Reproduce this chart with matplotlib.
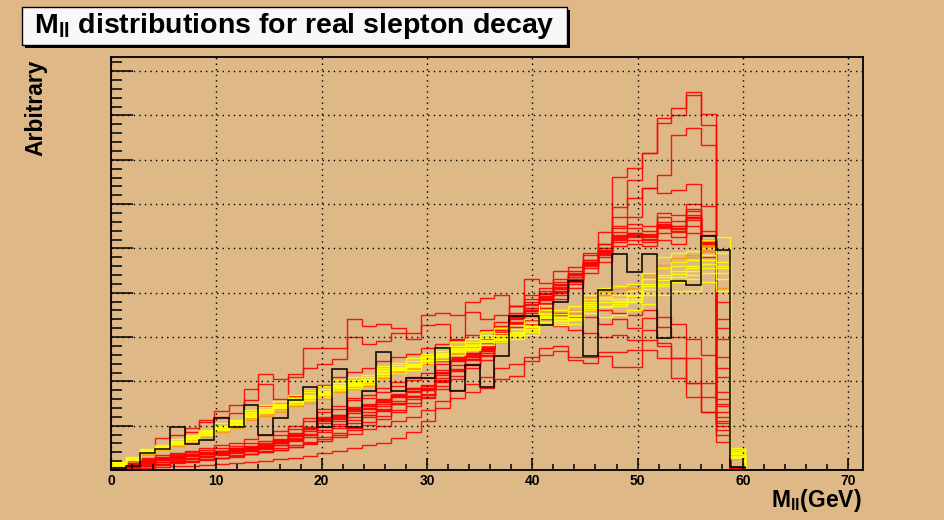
# M_ll distributions for real slepton decay (ROOT style canvas)

import matplotlib
matplotlib.use('Agg')
import matplotlib.pyplot as plt
import numpy as np
from matplotlib.patches import Rectangle
from matplotlib.ticker import MultipleLocator

plt.rcParams['font.family'] = 'Liberation Sans'
plt.rcParams['font.weight'] = 'bold'
plt.rcParams['mathtext.fontset'] = 'custom'
plt.rcParams['mathtext.rm'] = 'Liberation Sans:bold'
plt.rcParams['mathtext.it'] = 'Liberation Sans:bold'
plt.rcParams['mathtext.bf'] = 'Liberation Sans:bold'

title = 'M$_{ll}$ distributions for real slepton decay'
xlabel = 'M$_{ll}$(GeV)'
ylabel = 'Arbitrary'

bin_width = 1.4
n_bins = 50
x_ticks = [0, 10, 20, 30, 40, 50, 60, 70]

# bin contents for bins 0..42, the remaining bins are empty
black_hist = [0.05, 0.08, 0.38, 0.47, 0.98, 0.58, 0.68, 1.17, 0.98, 1.47, 0.78, 1.17, 1.58, 1.88, 0.98,
              2.27, 0.98, 1.78, 2.67, 1.78, 2.07, 2.07, 2.76, 1.78, 2.37, 1.87, 2.57, 3.48, 3.48, 3.27,
              3.78, 4.27, 2.57, 4.06, 4.87, 4.47, 4.87, 2.97, 4.27, 4.18, 5.27, 4.97, 0.075]

# red: main cluster
red_c1 = [0.10, 0.15, 0.24, 0.30, 0.36, 0.40, 0.45, 0.50, 0.55, 0.60, 0.66, 0.78, 0.92, 1.10, 1.32, 1.38, 1.58, 1.62,
          1.76, 1.90, 2.02, 2.08, 2.45, 2.75, 2.85, 2.95, 3.35, 3.70, 3.85, 4.10, 4.25, 4.50, 4.85, 5.10, 5.45, 5.55,
          5.50, 5.80, 5.75, 6.00, 5.40, 3.80, 0.06]
red_c2 = [0.06, 0.10, 0.16, 0.22, 0.25, 0.28, 0.32, 0.36, 0.40, 0.42, 0.47, 0.56, 0.68, 0.82, 0.98, 1.03, 1.20, 1.24,
          1.36, 1.48, 1.60, 1.64, 1.98, 2.28, 2.38, 2.48, 2.88, 3.22, 3.38, 3.65, 3.85, 4.10, 4.45, 4.70, 5.05, 5.10,
          5.05, 5.20, 5.10, 5.35, 4.80, 1.10, 0.04]
red_c3 = [0.09, 0.13, 0.21, 0.28, 0.31, 0.36, 0.40, 0.44, 0.50, 0.53, 0.58, 0.70, 0.82, 0.98, 1.20, 1.24, 1.42, 1.46,
          1.60, 1.72, 1.85, 1.90, 2.25, 2.55, 2.65, 2.74, 3.15, 3.50, 3.66, 3.92, 4.10, 4.35, 4.70, 4.95, 5.30, 5.35,
          5.30, 5.55, 5.50, 5.75, 5.15, 2.55, 0.05]
red_c4 = [0.07, 0.11, 0.19, 0.25, 0.29, 0.33, 0.37, 0.41, 0.45, 0.48, 0.54, 0.63, 0.76, 0.92, 1.10, 1.16, 1.34, 1.38,
          1.50, 1.64, 1.75, 1.80, 2.15, 2.46, 2.55, 2.65, 3.05, 3.40, 3.55, 3.84, 4.00, 4.25, 4.60, 4.85, 5.20, 5.25,
          5.22, 5.45, 5.40, 5.65, 5.05, 1.75, 0.05]
red_c5 = [0.08, 0.13, 0.22, 0.27, 0.33, 0.35, 0.41, 0.44, 0.49, 0.55, 0.60, 0.68, 0.84, 0.97, 1.18, 1.25, 1.40, 1.48,
          1.58, 1.70, 1.84, 1.92, 2.18, 2.52, 2.64, 2.76, 3.12, 3.42, 3.65, 3.90, 4.12, 4.32, 4.62, 4.96, 5.22, 5.35,
          5.20, 5.60, 5.38, 5.85, 5.00, 2.95, 0.05]
red_c6 = [0.07, 0.12, 0.18, 0.25, 0.28, 0.35, 0.36, 0.43, 0.46, 0.49, 0.53, 0.66, 0.76, 0.94, 1.12, 1.18, 1.36, 1.40,
          1.53, 1.66, 1.78, 1.82, 2.22, 2.48, 2.58, 2.68, 3.08, 3.48, 3.58, 3.86, 4.02, 4.28, 4.68, 4.88, 5.28, 5.28,
          5.32, 5.48, 5.50, 5.68, 5.20, 1.45, 0.05]
red_c7 = [0.09, 0.12, 0.20, 0.26, 0.32, 0.34, 0.39, 0.42, 0.48, 0.51, 0.57, 0.64, 0.80, 0.96, 1.16, 1.20, 1.38, 1.44,
          1.56, 1.69, 1.82, 1.86, 2.20, 2.50, 2.62, 2.72, 3.10, 3.44, 3.62, 3.88, 4.08, 4.30, 4.66, 4.92, 5.24, 5.32,
          5.25, 5.52, 5.45, 5.72, 5.10, 2.10, 0.05]
red_c8 = [0.08, 0.11, 0.19, 0.26, 0.30, 0.33, 0.38, 0.41, 0.47, 0.50, 0.55, 0.67, 0.78, 0.93, 1.14, 1.21, 1.37, 1.41,
          1.54, 1.67, 1.79, 1.84, 2.19, 2.49, 2.59, 2.69, 3.09, 3.46, 3.59, 3.87, 4.04, 4.29, 4.64, 4.89, 5.26, 5.30,
          5.28, 5.50, 5.44, 5.70, 5.12, 3.20, 0.05]
red_c9 = [0.11, 0.16, 0.26, 0.33, 0.38, 0.44, 0.50, 0.56, 0.62, 0.70, 0.78, 0.88, 1.00, 1.18, 1.38, 1.45, 1.62, 1.70,
          1.84, 1.98, 2.10, 2.18, 2.40, 2.62, 2.75, 2.86, 3.20, 3.55, 3.72, 3.98, 4.18, 4.42, 4.75, 5.02, 5.36, 5.45,
          5.40, 5.70, 5.62, 5.90, 5.30, 3.40, 0.06]
red_c10 = [0.07, 0.10, 0.17, 0.23, 0.27, 0.31, 0.35, 0.39, 0.43, 0.46, 0.50, 0.60, 0.72, 0.87, 1.05, 1.10, 1.28, 1.32,
           1.44, 1.56, 1.68, 1.72, 2.08, 2.38, 2.48, 2.58, 2.98, 3.32, 3.48, 3.76, 3.95, 4.20, 4.55, 4.80, 5.15, 5.20,
           5.15, 5.35, 5.25, 5.50, 4.95, 1.30, 0.04]

# red: strongly peaked near the edge
red_p1 = [0.03, 0.05, 0.08, 0.12, 0.15, 0.19, 0.22, 0.26, 0.30, 0.35, 0.40, 0.46, 0.53, 0.60, 0.70, 0.80, 0.90, 1.02,
          1.15, 1.30, 1.45, 1.62, 1.82, 2.05, 2.30, 2.60, 2.95, 3.70, 4.31, 4.22, 4.48, 4.58, 4.90, 5.36, 6.62, 6.82,
          7.16, 7.94, 8.16, 8.54, 8.04, 1.00, 0.05]
red_p2 = [0.04, 0.06, 0.09, 0.13, 0.17, 0.20, 0.24, 0.28, 0.33, 0.37, 0.43, 0.49, 0.56, 0.64, 0.74, 0.84, 0.95, 1.08,
          1.22, 1.36, 1.52, 1.70, 1.90, 2.12, 2.40, 2.70, 3.05, 3.50, 3.95, 4.05, 4.30, 4.45, 4.75, 5.10, 5.94, 6.55,
          7.16, 7.84, 8.00, 8.47, 7.79, 1.20, 0.05]
red_p3 = [0.05, 0.08, 0.12, 0.17, 0.21, 0.25, 0.30, 0.34, 0.39, 0.44, 0.50, 0.57, 0.65, 0.74, 0.85, 0.95, 1.07, 1.20,
          1.34, 1.48, 1.64, 1.80, 2.00, 2.24, 2.50, 2.78, 3.10, 3.48, 3.80, 4.00, 4.20, 4.40, 4.70, 5.00, 5.72, 6.13,
          6.36, 6.66, 7.56, 7.71, 7.34, 1.50, 0.05]
red_p4 = [0.05, 0.09, 0.14, 0.19, 0.23, 0.28, 0.32, 0.37, 0.42, 0.47, 0.53, 0.60, 0.69, 0.79, 0.90, 1.00, 1.12, 1.25,
          1.38, 1.52, 1.66, 1.82, 2.02, 2.25, 2.50, 2.80, 3.12, 3.45, 3.75, 3.98, 4.18, 4.40, 4.68, 4.95, 5.50, 5.70,
          6.36, 6.25, 6.32, 6.45, 5.96, 2.30, 0.05]

# red: flatter shapes that fall off before the edge
red_f1 = [0.12, 0.25, 0.42, 0.72, 0.79, 0.95, 1.12, 1.33, 1.47, 1.83, 2.17, 2.05, 2.17, 2.75, 2.75, 2.75, 3.40, 3.24,
          3.30, 3.20, 3.10, 3.50, 3.54, 3.50, 3.80, 3.88, 3.95, 3.70, 3.60, 3.75, 3.55, 3.50, 3.45, 3.30, 3.40, 3.20,
          3.43, 3.23, 3.00, 2.52, 1.96, 1.06, 0.05]
red_f2 = [0.10, 0.20, 0.36, 0.55, 0.62, 0.86, 1.09, 1.20, 1.28, 1.58, 1.95, 1.60, 2.10, 2.30, 2.40, 2.50, 3.00, 2.85,
          2.90, 3.10, 2.95, 3.27, 3.30, 2.93, 3.57, 3.40, 3.50, 3.35, 3.30, 3.40, 3.25, 3.15, 3.10, 3.00, 3.05, 2.93,
          3.16, 2.86, 2.52, 1.96, 1.32, 0.80, 0.05]
red_f3 = [0.02, 0.03, 0.05, 0.07, 0.09, 0.10, 0.12, 0.14, 0.15, 0.17, 0.20, 0.24, 0.28, 0.32, 0.38, 0.44, 0.50, 0.56,
          0.62, 0.72, 0.85, 1.10, 1.40, 1.62, 1.75, 1.85, 2.05, 2.12, 2.45, 2.60, 2.68, 2.48, 2.42, 2.57, 2.33, 2.33,
          2.71, 2.52, 2.07, 1.65, 1.32, 0.64, 0.04]
red_f4 = [0.04, 0.06, 0.10, 0.14, 0.17, 0.20, 0.24, 0.27, 0.31, 0.35, 0.40, 0.46, 0.52, 0.58, 0.66, 0.74, 0.82, 0.92,
          1.00, 1.10, 1.20, 1.35, 1.55, 1.80, 1.95, 2.10, 2.30, 2.40, 2.55, 2.75, 2.80, 2.55, 2.56, 2.67, 2.67, 2.70,
          2.93, 2.80, 2.52, 1.96, 1.65, 0.90, 0.04]
red_f5 = [0.12, 0.22, 0.38, 0.50, 0.60, 0.70, 0.82, 0.95, 1.05, 1.28, 1.45, 1.50, 1.68, 1.80, 1.92, 2.10, 2.22, 2.30,
          2.45, 2.55, 2.62, 2.75, 2.85, 2.95, 3.05, 3.15, 3.25, 3.30, 3.40, 3.55, 3.50, 3.45, 3.60, 3.60, 3.55, 3.50,
          3.60, 3.45, 3.30, 2.95, 2.60, 1.60, 0.05]

red_hists = [red_f1, red_f2, red_f3, red_f4, red_f5, red_p1, red_p2, red_p3, red_p4,
             red_c1, red_c2, red_c3, red_c4, red_c5, red_c6, red_c7, red_c8, red_c9, red_c10]

orange_hists = [
    [0.12, 0.22, 0.36, 0.45, 0.55, 0.64, 0.75, 0.86, 0.95, 1.12, 1.22, 1.32, 1.44, 1.52, 1.60, 1.75, 1.82, 1.90,
     2.08, 2.18, 2.27, 2.40, 2.50, 2.62, 2.72, 2.88, 2.95, 3.05, 3.20, 3.52, 3.45, 3.55, 3.82, 3.95, 4.00, 4.10,
     4.35, 4.55, 4.70, 4.80, 4.95, 4.60, 0.30],
    [0.14, 0.24, 0.39, 0.48, 0.58, 0.67, 0.79, 0.90, 0.99, 1.18, 1.27, 1.37, 1.49, 1.57, 1.66, 1.81, 1.87, 1.95,
     2.12, 2.22, 2.30, 2.44, 2.55, 2.66, 2.76, 2.92, 3.00, 3.10, 3.25, 3.58, 3.52, 3.60, 3.88, 4.02, 4.08, 4.18,
     4.40, 4.62, 4.78, 4.85, 5.05, 4.10, 0.25],
]

yellow_hists = [
    [0.12, 0.28, 0.45, 0.55, 0.70, 0.78, 0.90, 1.05, 1.12, 1.35, 1.47, 1.55, 1.70, 1.80, 1.90, 2.02, 2.10, 2.14,
     2.35, 2.42, 2.53, 2.62, 2.75, 2.88, 2.95, 3.12, 3.20, 3.28, 3.40, 3.72, 3.62, 3.70, 3.95, 4.10, 4.15, 4.20,
     4.45, 4.80, 4.90, 4.95, 5.20, 5.25, 0.49],
    [0.10, 0.22, 0.38, 0.47, 0.58, 0.66, 0.78, 0.90, 0.98, 1.20, 1.28, 1.40, 1.50, 1.58, 1.65, 1.80, 1.85, 1.95,
     2.12, 2.20, 2.25, 2.42, 2.48, 2.60, 2.70, 2.82, 2.88, 2.95, 3.05, 3.35, 3.28, 3.30, 3.55, 3.45, 3.50, 3.62,
     3.75, 3.95, 4.05, 4.05, 4.25, 4.05, 0.28],
    [0.16, 0.26, 0.44, 0.52, 0.64, 0.74, 0.86, 0.97, 1.08, 1.28, 1.38, 1.47, 1.60, 1.70, 1.78, 1.92, 1.98, 2.05,
     2.26, 2.33, 2.40, 2.55, 2.63, 2.75, 2.85, 3.00, 3.05, 3.12, 3.25, 3.55, 3.45, 3.50, 3.78, 3.90, 3.85, 3.95,
     4.20, 4.40, 4.60, 4.60, 4.85, 4.70, 0.40],
    [0.14, 0.24, 0.40, 0.49, 0.60, 0.70, 0.80, 0.93, 1.03, 1.22, 1.32, 1.43, 1.55, 1.64, 1.72, 1.87, 1.92, 2.00,
     2.18, 2.27, 2.35, 2.47, 2.57, 2.68, 2.76, 2.90, 2.96, 3.04, 3.15, 3.45, 3.36, 3.40, 3.66, 3.70, 3.75, 3.82,
     4.00, 4.20, 4.35, 4.40, 4.55, 4.45, 0.32],
    [0.18, 0.30, 0.47, 0.56, 0.66, 0.76, 0.88, 1.00, 1.10, 1.30, 1.42, 1.50, 1.63, 1.75, 1.82, 1.97, 2.03, 2.10,
     2.30, 2.38, 2.46, 2.58, 2.68, 2.80, 2.88, 3.05, 3.10, 3.18, 3.32, 3.62, 3.52, 3.58, 3.85, 4.00, 3.95, 4.05,
     4.30, 4.55, 4.70, 4.75, 5.00, 4.90, 0.45],
    [0.13, 0.23, 0.39, 0.48, 0.59, 0.69, 0.81, 0.92, 1.01, 1.21, 1.30, 1.42, 1.54, 1.62, 1.70, 1.85, 1.90, 1.98,
     2.16, 2.25, 2.32, 2.45, 2.55, 2.66, 2.74, 2.88, 2.94, 3.02, 3.12, 3.42, 3.32, 3.38, 3.62, 3.68, 3.70, 3.78,
     3.95, 4.15, 4.25, 4.30, 4.45, 4.30, 0.30],
    [0.17, 0.27, 0.43, 0.53, 0.63, 0.73, 0.85, 0.96, 1.06, 1.26, 1.36, 1.46, 1.59, 1.68, 1.76, 1.91, 1.96, 2.03,
     2.24, 2.31, 2.39, 2.52, 2.61, 2.73, 2.82, 2.97, 3.02, 3.10, 3.22, 3.52, 3.42, 3.47, 3.75, 3.85, 3.82, 3.92,
     4.15, 4.35, 4.50, 4.55, 4.75, 4.60, 0.38],
    [0.15, 0.26, 0.41, 0.51, 0.61, 0.71, 0.84, 0.94, 1.04, 1.24, 1.34, 1.44, 1.57, 1.66, 1.74, 1.89, 1.94, 2.01,
     2.20, 2.29, 2.37, 2.49, 2.59, 2.71, 2.79, 2.93, 2.99, 3.07, 3.18, 3.48, 3.38, 3.44, 3.70, 3.78, 3.78, 3.86,
     4.08, 4.28, 4.42, 4.48, 4.65, 4.55, 0.35],
]


def pad(h):
    return np.concatenate([np.array(h, dtype=float), np.zeros(n_bins - len(h))])


bg = '#deb887'
fig = plt.figure(figsize=(9.45, 5.2), dpi=100, facecolor=bg)
ax = fig.add_axes([111 / 945, 50 / 520, 752 / 945, 413 / 520], facecolor=bg)

edges = np.arange(n_bins + 1) * bin_width

for h in red_hists:
    ax.stairs(pad(h), edges, baseline=0, color='#ff0000', alpha=0.9, lw=1.0)
for h in orange_hists:
    ax.stairs(pad(h), edges, baseline=0, color='#ff9900', alpha=0.9, lw=1.0)
for h in yellow_hists:
    ax.stairs(pad(h), edges, baseline=0, color='#ffff00', alpha=0.9, lw=1.0)
ax.stairs(pad(black_hist), edges, baseline=0, color='black', lw=1.1)

ax.set_xlim(0, 71.4)
ax.set_ylim(0, 9.32)

ax.set_xticks(x_ticks)
ax.set_xticklabels([str(t) for t in x_ticks])
ax.xaxis.set_minor_locator(MultipleLocator(2))
ax.yaxis.set_major_locator(MultipleLocator(1))
ax.yaxis.set_minor_locator(MultipleLocator(0.2))
ax.tick_params(axis='x', which='major', direction='in', length=8.5, width=1.1, labelsize=10, pad=3)
ax.tick_params(axis='x', which='minor', direction='in', length=4.3, width=1.1)
ax.tick_params(axis='y', which='major', direction='in', length=15.5, width=1.1, labelleft=False)
ax.tick_params(axis='y', which='minor', direction='in', length=7.8, width=1.1)
ax.grid(True, which='major', color='black', ls=(0, (1, 3)), lw=1.0)
ax.set_axisbelow(False)
for s in ax.spines.values():
    s.set_linewidth(1.3)

# title pave with shadow
fig.add_artist(Rectangle((25 / 945, 1 - 48 / 520), 545 / 945, 38 / 520,
                         transform=fig.transFigure, facecolor='black', edgecolor='none'))
fig.add_artist(Rectangle((22 / 945, 1 - 45 / 520), 545 / 945, 38 / 520,
                         transform=fig.transFigure, facecolor='#f8f8f8', edgecolor='black', lw=1.0))
fig.text(294 / 945, 1 - 26 / 520, title, ha='center', va='center', fontsize=20.5, fontweight='bold')

fig.text(36 / 945, 1 - 108 / 520, ylabel, rotation=90, ha='center', va='center', fontsize=16.5, fontweight='bold')
fig.text(862 / 945, 1 - 500 / 520, xlabel, ha='right', va='center', fontsize=16.5, fontweight='bold')

fig.savefig('out.png', dpi=100, facecolor=bg)
